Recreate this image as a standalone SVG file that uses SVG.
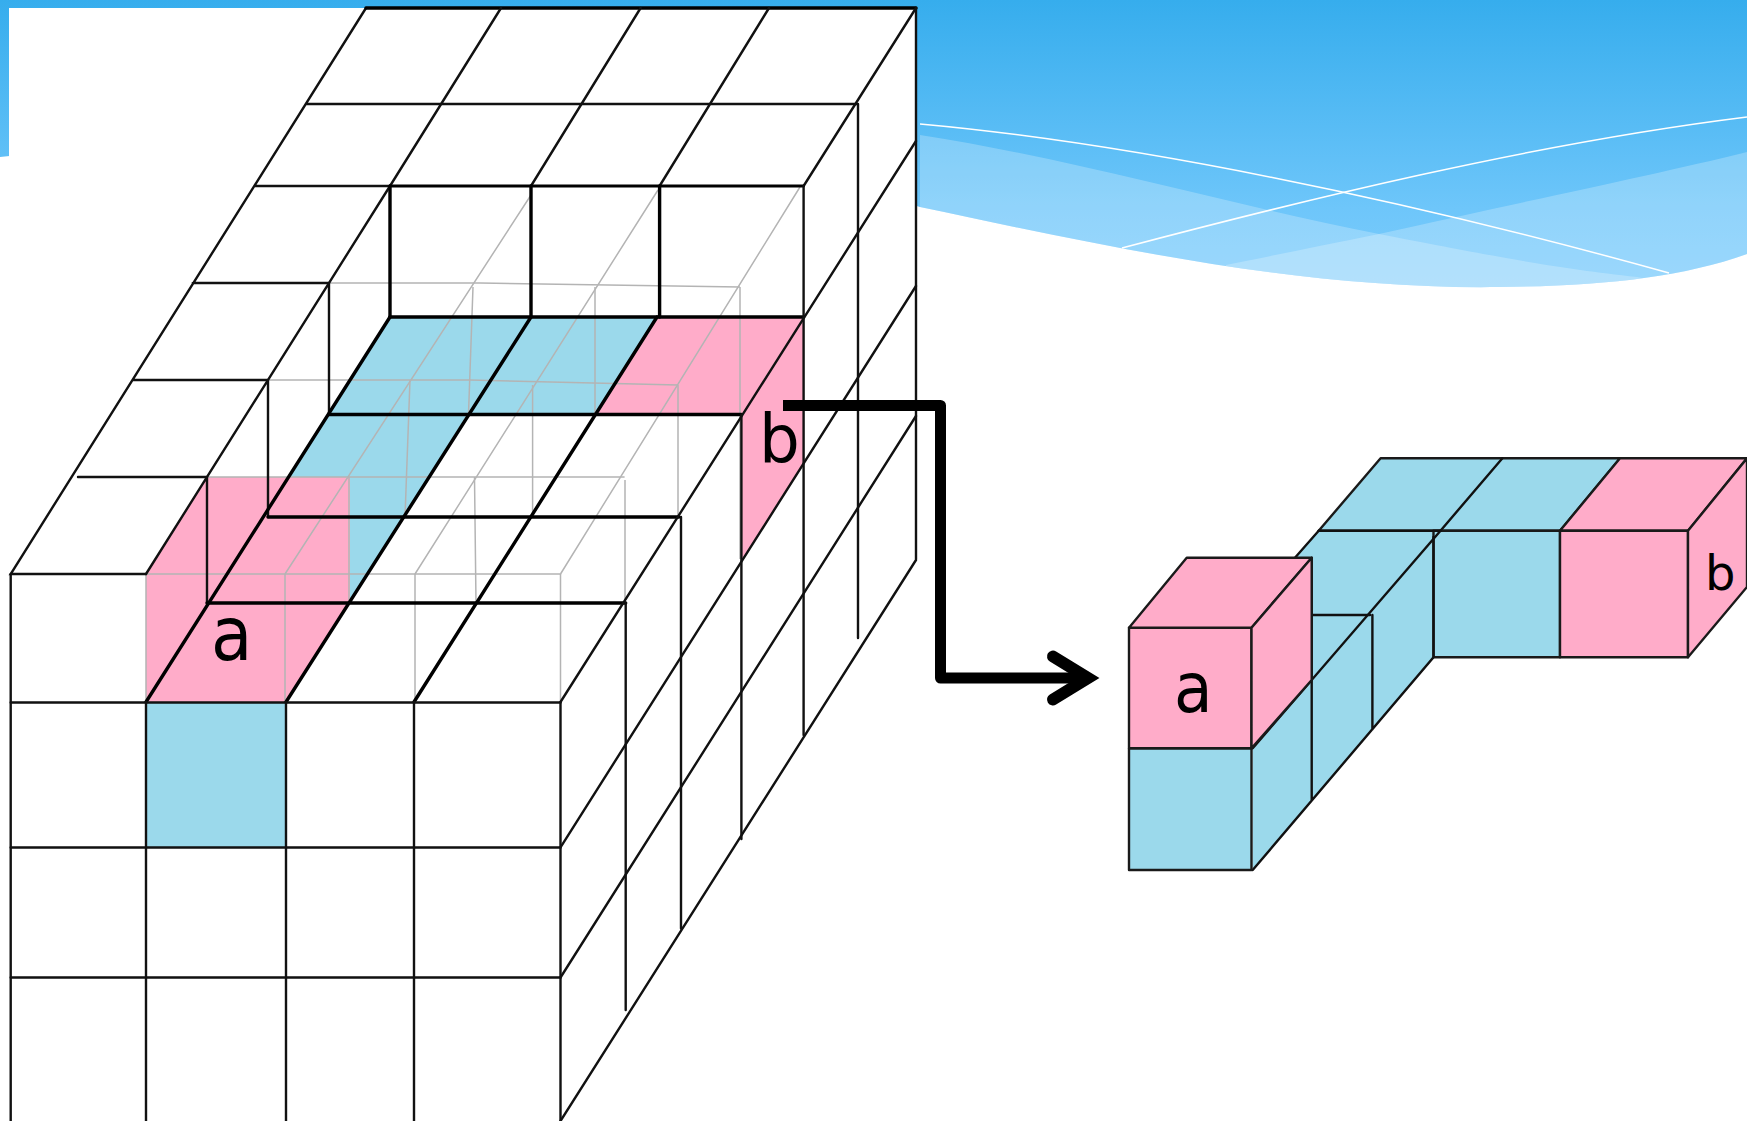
<svg xmlns="http://www.w3.org/2000/svg" width="1747" height="1121" viewBox="0 0 1747 1121">
<defs>
<linearGradient id="sky" gradientUnits="userSpaceOnUse" x1="0" y1="0" x2="0" y2="290"><stop offset="0" stop-color="#36ADED"/><stop offset="0.72" stop-color="#6EC6FA"/><stop offset="1" stop-color="#7DCCFC"/></linearGradient>
<clipPath id="skyClip"><path d="M0 0H1747V254C1680 278 1600 286 1500 287C1300 290 1100 245 920 207C640 120 300 125 0 157Z"/></clipPath>
<marker id="chev" markerUnits="userSpaceOnUse" markerWidth="70" markerHeight="70" refX="48" refY="30" orient="auto" overflow="visible"><path d="M13 8.5L48 30L13 51.5" fill="none" stroke="#000" stroke-width="12" stroke-linecap="round" stroke-linejoin="miter"/></marker>
</defs>
<style>
.k{stroke:#111;stroke-width:2.4;fill:none;stroke-linecap:round}
.t{stroke:#000;stroke-width:3.4;fill:none;stroke-linecap:round}
.g{stroke:#b4b4b4;stroke-width:1.5;fill:none}
.p{fill:#FFACC9}
.b{fill:#9BD9EB}
.e{stroke:#1a1a1a;stroke-width:2.4;stroke-linejoin:round}
.sw{fill:#fff;fill-opacity:.24}
.wl{stroke:#fff;stroke-width:1.5;fill:none}
text{font-family:"DejaVu Sans",sans-serif;fill:#000}
</style>
<rect width="1747" height="1121" fill="#fff"/>
<g id="background">
<rect width="1747" height="300" fill="url(#sky)" clip-path="url(#skyClip)"/>
<g clip-path="url(#skyClip)">
<path class="sw" d="M920 135C1080 160 1230 205 1379 234S1560 268 1637 277L1747 300H920Z"/>
<path class="sw" d="M1747 152C1650 176 1530 200 1379 234C1320 246 1270 256 1226 265V300H1747Z"/>
</g>
<path class="wl" d="M920 124C1130 143 1400 198 1669 273"/>
<path class="wl" d="M1122 248C1300 201 1530 144 1747 117"/>
</g>
<g id="cutaway-block">
<rect x="9" y="8" width="907" height="1113" fill="#fff"/>
<g id="faces">
<path class="p" d="M146 574L207 477H350V603L286 702H146Z"/>
<path class="b" d="M390 317H657L595 414.5H467L350 603V477H290L329 414.5Z"/>
<path class="p" d="M657 317H803.6L741.4 414.5H595Z"/>
<path class="p" d="M803.6 317V465L741.4 562V414.5Z"/>
<rect class="b" x="146" y="702" width="140" height="145"/>
</g>
<g id="ghost-lines">
<path class="g" d="M329 283H480L740 287M268 380H470L678 385M207 477H624.6M146 574H560.5"/>
<path class="g" d="M800 187L560.5 574M531 195L285 574M658 190L415 574"/>
<path class="g" d="M473 287L468.5 414M595 287V414M740 287V559M410 380L405 517M532.6 385V517M678 385V517M349 477V603M474.5 477L476 603M625 480V603M285 574V702M415 574V702M560.5 574V702M146 574V702"/>
</g>
<g id="grid-lines">
<path class="k" d="M366 8L10.7 574H146M307 104H857M255 186H390M192.8 283H329M133 380H268M78 477H207"/>
<path class="t" d="M366 8H916"/>
<path class="k" d="M501 8L390 186M640.6 8L531 186M769 8L659.6 186M916 8L803.6 186"/>
<path class="t" d="M390 186H803.6" style="stroke-width:2.8"/>
<path class="k" d="M390 186L146 574M329 283V414.5M268 380V517M207 477V603"/>
<path class="t" d="M390 186V317M531 186V317M659.6 186V317"/>
<path class="t" d="M390 317H803.6M329 414.5H741.4M268 517H679M207 603H625.7"/>
<path class="t" d="M390 317L146 702M531 317L286 702M657 317L414 702"/>
<path class="k" d="M10.7 574V1121M146 702V1121M286 702V1121M414 702V1121M560.5 702V1121"/>
<path class="k" d="M10.7 702.5H560.5M10.7 847.5H560.5M10.7 977.5H560.5"/>
<path class="k" d="M560.5 702L916 141M560.5 847.3L916 286M560.5 977.5L916 416M560.5 1121L916 560"/>
<path class="k" d="M625.7 603V1010M681 517V928.5M741.4 414.5V839M803.6 186V735M858 104V638M916 8V559"/>
</g>
<text transform="translate(211 660) scale(.9 1)" font-size="75" id="label-a-left">a</text>
<text transform="translate(759 463) scale(.96 1)" font-size="67" id="label-b-left">b</text>
</g>
<g id="connectors">
<path d="M783 405.5H940.5V678H1088" fill="none" stroke="#000" stroke-width="11" stroke-linejoin="round" marker-end="url(#chev)"/>
</g>
<g id="cube-assembly">
<path class="b e" d="M1380.6 458.3H1620L1560 530.7H1318.7Z"/>
<path class="p e" d="M1620 458.3H1747V458.3L1688 530.7H1560Z"/>
<path class="k" d="M1502.4 458.3L1440.5 530.7"/>
<path class="b" d="M1318.7 530.7H1440.5L1433.5 657.3L1252.7 870V627.7L1294 560Z"/>
<path class="k" d="M1318.7 530.7L1293 560"/>
<rect class="b e" x="1433.5" y="530.7" width="126.5" height="126.6"/>
<rect class="p e" x="1560" y="530.7" width="128" height="126.6"/>
<path class="p e" d="M1688 530.7L1747 458.3V587L1688 657.3Z"/>
<path class="k" d="M1440.5 530.7H1318.7"/>
<path class="k" d="M1433.5 537V657.3L1252.7 870M1372.4 615V729.3M1311.7 615H1370M1311.7 558V800"/>
<path class="k" d="M1440.5 530.7L1252.7 748.3"/>
<path class="b e" d="M1129 748.3H1251.5V870H1129Z"/>
<path class="p e" d="M1129 627.7H1251.5V748.3H1129Z"/>
<path class="p e" d="M1129 627.7L1186.7 557.7H1311.7L1251.5 627.7Z"/>
<path class="p e" d="M1251.5 627.7L1311.7 557.7V680L1251.5 748.3Z"/>
<text transform="translate(1174 712) scale(.9 1)" font-size="70" id="label-a-right">a</text>
<text x="1705" y="590" font-size="48" id="label-b-right">b</text>
</g>
</svg>
